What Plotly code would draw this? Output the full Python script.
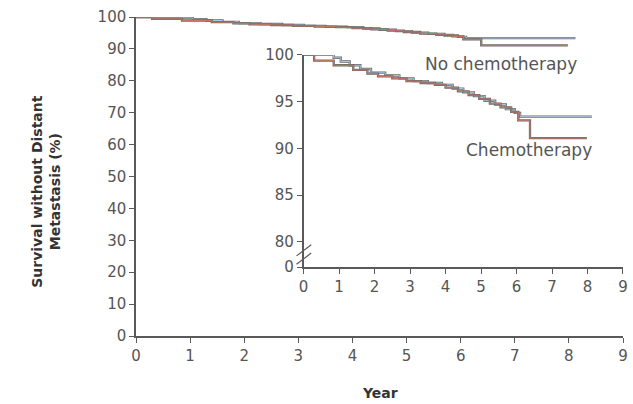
import plotly.graph_objects as go

# Kaplan-Meier estimates of survival without distant metastasis (%)
no_chemo_years = [0, 0.85, 1.05, 1.3, 1.6, 1.9, 2.3, 2.7, 3.1, 3.5, 3.9, 4.2, 4.5, 4.8,
                  5.1, 5.4, 5.7, 5.95, 6.1, 8.12]
no_chemo_surv = [100, 99.7, 99.3, 98.9, 98.5, 98.1, 97.8, 97.5, 97.2, 97.0, 96.8, 96.4,
                 96.0, 95.6, 95.1, 94.7, 94.2, 93.8, 93.4, 93.4]

chemo_years = [0, 0.3, 0.85, 1.4, 1.8, 2.1, 2.5, 2.9, 3.3, 3.7, 4.0, 4.35, 4.65, 4.95,
               5.25, 5.55, 5.85, 6.05, 6.38, 7.98]
chemo_surv = [100, 99.4, 98.9, 98.4, 98.0, 97.7, 97.5, 97.2, 97.0, 96.8, 96.5, 96.1,
              95.7, 95.3, 94.8, 94.4, 93.9, 93.0, 91.1, 91.1]

year_ticks = list(range(0, 10))
main_y_ticks = list(range(0, 101, 10))
inset_y_ticks = [80, 85, 90, 95, 100]
inset_floor = 77.3  # value at which the broken inset axis shows "0"

BLUE = "#a9c6e0"
RED = "#c87866"
EDGE = "#6a6a6a"
AXIS = "#5a5a5a"
TEXT = "#555555"
TITLE = "#333333"
FONT = "DejaVu Sans"

fig = go.Figure()


def add_curve(x, y, color, xa, ya):
    # grey edge underneath, coloured core on top
    fig.add_trace(go.Scatter(x=x, y=y, mode="lines", line=dict(shape="hv", color=EDGE, width=2.3),
                             xaxis=xa, yaxis=ya, hoverinfo="skip", showlegend=False, cliponaxis=False))
    fig.add_trace(go.Scatter(x=x, y=y, mode="lines", line=dict(shape="hv", color=color, width=1.0),
                             xaxis=xa, yaxis=ya, showlegend=False, cliponaxis=False))


for xa, ya in [("x", "y"), ("x2", "y2")]:
    add_curve(no_chemo_years, no_chemo_surv, BLUE, xa, ya)
    add_curve(chemo_years, chemo_surv, RED, xa, ya)

axis_common = dict(showline=True, linecolor=AXIS, linewidth=1.5, ticks="outside", ticklen=5,
                   tickcolor=AXIS, tickwidth=1.2, showgrid=False, zeroline=False,
                   tickfont=dict(family=FONT, size=15, color=TEXT))

fig.update_layout(
    width=633, height=404,
    margin=dict(l=136, r=5, t=17, b=68),
    paper_bgcolor="white", plot_bgcolor="white",
    xaxis=dict(range=[0, 9], tickvals=year_ticks, domain=[0, 1], **axis_common),
    yaxis=dict(range=[0, 100], tickvals=main_y_ticks, domain=[0, 1], **axis_common),
    xaxis2=dict(range=[0, 9], tickvals=year_ticks, domain=[0.344, 1], anchor="y2", **axis_common),
    yaxis2=dict(range=[inset_floor, 100], tickvals=[inset_floor] + inset_y_ticks,
                ticktext=["0"] + [str(v) for v in inset_y_ticks],
                domain=[0.216, 0.881], anchor="x2", **axis_common),
)

# axis break marks on the inset y axis
for dy in (0.0, 0.9):
    fig.add_shape(type="line", xref="x2 domain", yref="y2",
                  x0=-0.022, x1=0.024, y0=78.2 + dy - 0.6, y1=79.4 + dy - 0.6,
                  line=dict(color=AXIS, width=1.2))

fig.add_annotation(text="No chemotherapy", xref="x2", yref="y2", x=5.55, y=99.0,
                   showarrow=False, font=dict(family=FONT, size=17, color=TEXT))
fig.add_annotation(text="Chemotherapy", xref="x2", yref="y2", x=6.35, y=89.8,
                   showarrow=False, font=dict(family=FONT, size=17, color=TEXT))

fig.add_annotation(text="<b>Year</b>", xref="paper", yref="paper", x=0.5, y=-0.18,
                   yanchor="middle", showarrow=False, font=dict(family=FONT, size=14, color=TITLE))
fig.add_annotation(text="<b>Survival without Distant<br>Metastasis (%)</b>", xref="paper",
                   yref="paper", x=-0.185, y=0.455, textangle=-90, showarrow=False,
                   xanchor="center", yanchor="middle",
                   font=dict(family=FONT, size=14, color=TITLE))

fig.write_html("out.html")
